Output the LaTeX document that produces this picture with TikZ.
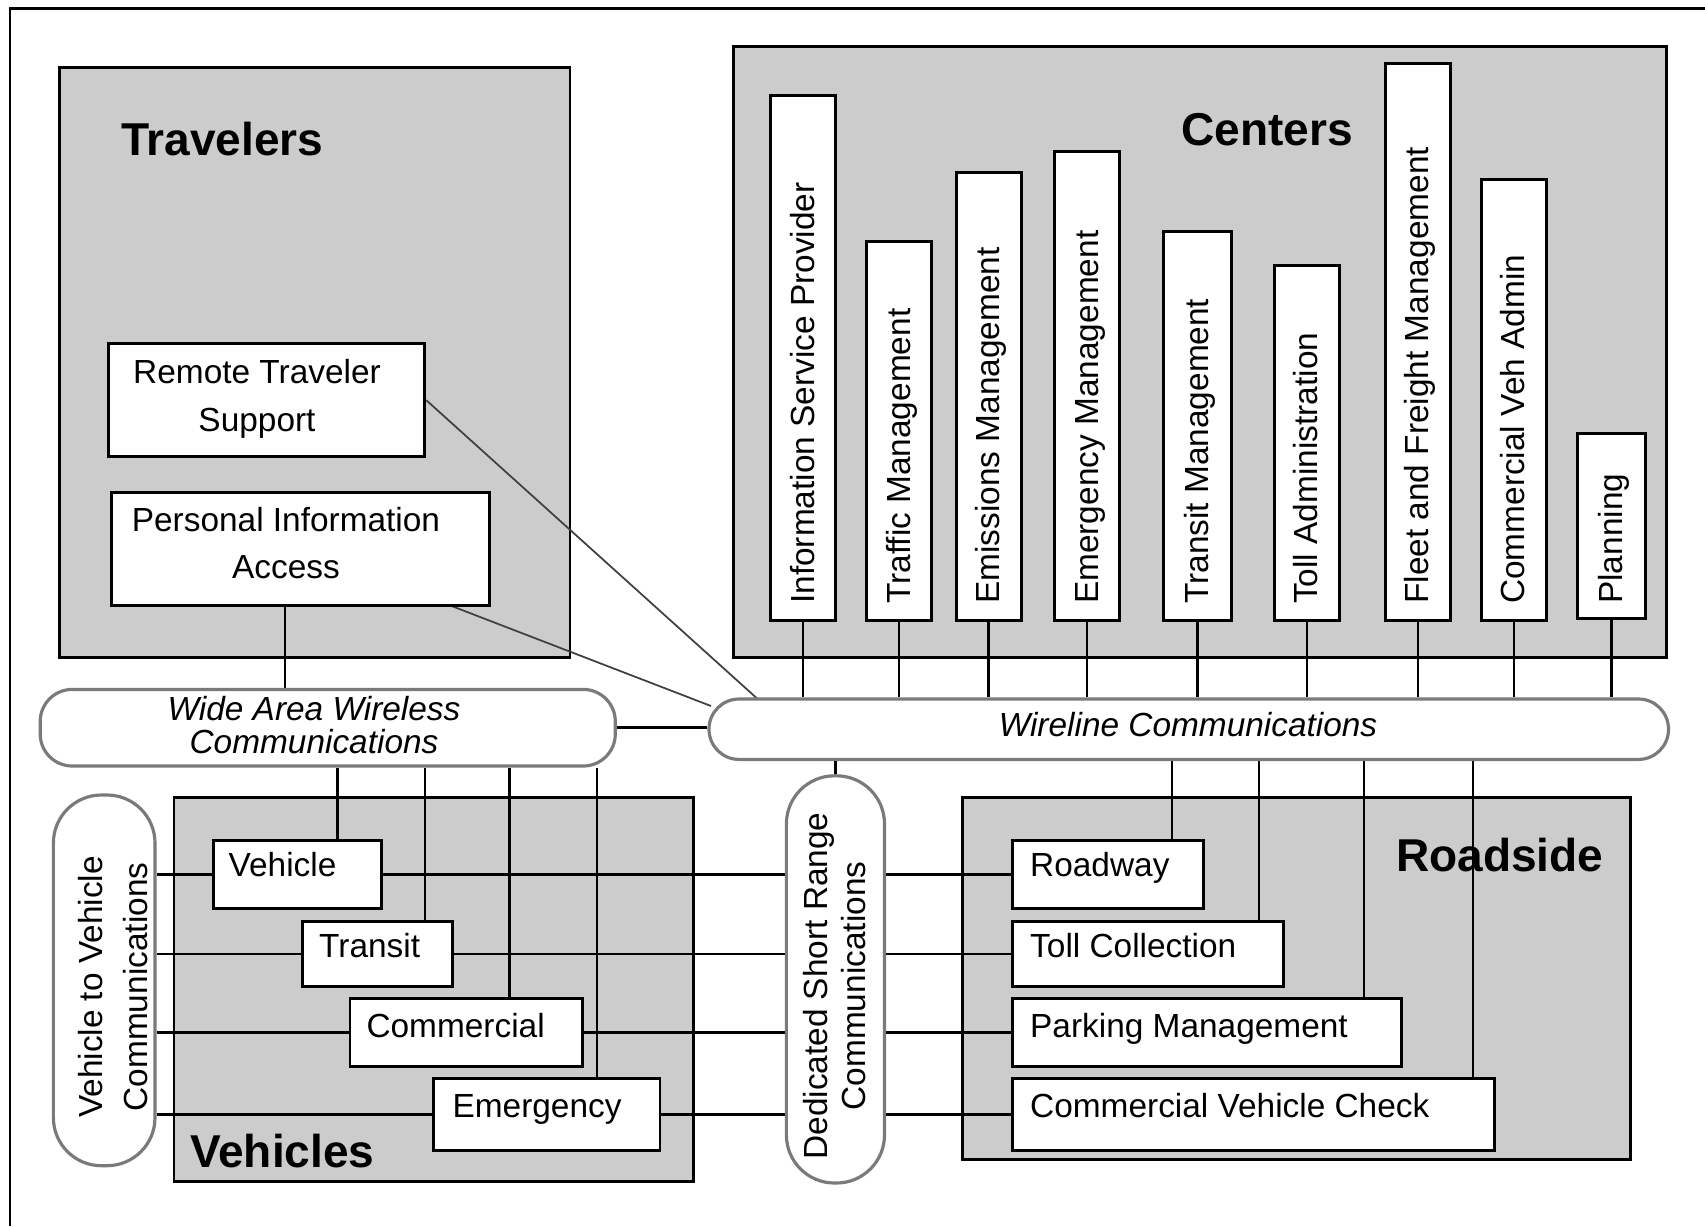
\documentclass[tikz,border=0pt]{standalone}
\usepackage{fontspec}
\setmainfont{Liberation Sans}
\usetikzlibrary{fit}
\pgfdeclarelayer{back}
\pgfdeclarelayer{mid}
\pgfsetlayers{back,mid,main}
\definecolor{grp}{HTML}{CCCCCC}
\definecolor{pillc}{HTML}{7A7A7A}
\begin{document}
\begin{tikzpicture}[x=0.01cm,y=-0.01cm,
  grpbox/.style={draw, fill=grp, line width=0.85pt, inner sep=0pt},
  wbox/.style={draw, fill=white, line width=0.85pt, inner sep=0pt},
  pill/.style={draw=pillc, fill=white, line width=0.9pt, inner sep=0pt},
  grptitle/.style={font=\fontsize{13.1}{15}\selectfont\bfseries, inner sep=0pt, anchor=base west},
  lbl/.style={font=\fontsize{9.5}{13.6}\selectfont, inner sep=0pt},
  blbl/.style={lbl, anchor=base west},
  clbl/.style={lbl, rotate=90, anchor=base west},
  conn/.style={line width=0.7pt},
  diag/.style={line width=0.5pt, black!75}]
\useasboundingbox (0,0) rectangle (1705,1226);
% outer frame
\coordinate (fbl) at (10,1226);
\coordinate (ftl) at (10,8);
\coordinate (ftr) at (1705,8);
\draw[line width=0.85pt] (fbl) -- (ftl) -- (ftr);

% group boxes
\begin{pgfonlayer}{back}
\node[grpbox, fit={(59.3,67.9)(570,657.6)}] (trav) {};
\node[grpbox, fit={(733.3,46)(1666.5,657.6)}] (cent) {};
\node[grpbox, fit={(174,797.3)(693.4,1181.4)}] (vehs) {};
\node[grpbox, fit={(962,797.3)(1630.6,1159.8)}] (road) {};
\node[grptitle] (travT) at (120.5,155.3) {Travelers};
\node[grptitle] (centT) at (1180.7,145) {Centers};
\node[grptitle] (vehsT) at (189.4,1167.5) {Vehicles};
\node[grptitle] (roadT) at (1395.5,871.5) {Roadside};
\end{pgfonlayer}

% traveler boxes
\node[wbox, fit={(108.3,343.7)(424.8,456.7)}] (rts) {};
\node[lbl, align=center] (rtsT) at (257,399) {Remote Traveler\\Support};
\node[wbox, fit={(111.7,492)(489.8,605.8)}] (pia) {};
\node[lbl, align=center] (piaT) at (286,543) {Personal Information\\Access};

% center boxes
\node[wbox, fit={(770.5,95)(835.9,620.5)}] (isp) {};
\node[wbox, fit={(866.6,241.5)(931.4,620.5)}] (tm) {};
\node[wbox, fit={(956.4,172.3)(1021,620.5)}] (ems) {};
\node[wbox, fit={(1054.4,151.8)(1119.8,620.5)}] (emg) {};
\node[wbox, fit={(1163.4,231.2)(1231.3,620.5)}] (trm) {};
\node[wbox, fit={(1274.2,265.2)(1339.6,620.5)}] (ta) {};
\node[wbox, fit={(1385.1,63.8)(1450.5,620.5)}] (ffm) {};
\node[wbox, fit={(1481.3,179.5)(1546.6,620.5)}] (cva) {};
\node[wbox, fit={(1577.4,433)(1645.3,618.3)}] (pl) {};
\node[clbl] (ispT) at ([shift={(11,-17.5)}]isp.south) {Information Service Provider};
\node[clbl] (tmT) at ([shift={(11,-17.5)}]tm.south) {Traffic Management};
\node[clbl] (emsT) at ([shift={(11,-17.5)}]ems.south) {Emissions Management};
\node[clbl] (emgT) at ([shift={(11,-17.5)}]emg.south) {Emergency Management};
\node[clbl] (trmT) at ([shift={(11,-17.5)}]trm.south) {Transit Management};
\node[clbl] (taT) at ([shift={(11,-17.5)}]ta.south) {Toll Administration};
\node[clbl] (ffmT) at ([shift={(11,-17.5)}]ffm.south) {Fleet and Freight Management};
\node[clbl] (cvaT) at ([shift={(11,-17.5)}]cva.south) {Commercial Veh Admin};
\node[clbl] (plT) at ([shift={(11,-15.3)}]pl.south) {Planning};

% vehicle boxes
\node[wbox, fit={(213.5,840)(381.7,908.8)}] (veh) {};
\node[wbox, fit={(302.5,921)(452.3,986.8)}] (tran) {};
\node[wbox, fit={(350,998)(582.6,1066.5)}] (comm) {};
\node[wbox, fit={(433.4,1078.7)(660,1150)}] (emer) {};
\node[blbl] (vehT) at ([shift={(16,38)}]veh.north west) {Vehicle};
\node[blbl] (tranT) at ([shift={(17.5,37.6)}]tran.north west) {Transit};
\node[blbl] (commT) at ([shift={(17.3,40.6)}]comm.north west) {Commercial};
\node[blbl] (emerT) at ([shift={(20,40.7)}]emer.north west) {Emergency};

% roadside boxes
\node[wbox, fit={(1012,840)(1203.7,908.8)}] (rdw) {};
\node[wbox, fit={(1012,921)(1283,986.8)}] (toll) {};
\node[wbox, fit={(1012,998)(1401.6,1066.5)}] (park) {};
\node[wbox, fit={(1012,1078.7)(1494,1150)}] (cvc) {};
\node[blbl] (rdwT) at ([shift={(19,38)}]rdw.north west) {Roadway};
\node[blbl] (tollT) at ([shift={(19,37.6)}]toll.north west) {Toll Collection};
\node[blbl] (parkT) at ([shift={(19,40.6)}]park.north west) {Parking Management};
\node[blbl] (cvcT) at ([shift={(19,40.7)}]cvc.north west) {Commercial Vehicle Check};

% communication pills
\node[pill, rounded corners=0.32cm, fit={(40.2,689.4)(615.3,766)}] (waw) {};
\node[lbl, font=\fontsize{9.5}{9.4}\selectfont\itshape, align=center] (wawT) at (314,725.5) {Wide Area Wireless\\Communications};
\node[pill, rounded corners=0.30cm, fit={(709,699)(1668.5,759.4)}] (wl) {};
\node[lbl, font=\fontsize{9.5}{12}\selectfont\itshape, anchor=base] (wlT) at (1188,736) {Wireline Communications};
\node[pill, rounded corners=0.48cm, fit={(53.4,795)(155,1165.7)}] (v2v) {};
\node[lbl, font=\fontsize{9.5}{12.8}\selectfont, align=center, rotate=90] (v2vT) at (113,987) {Vehicle to Vehicle\\Communications};
\node[pill, rounded corners=0.48cm, fit={(786.4,775.8)(884.5,1183)}] (dsrc) {};
\node[lbl, font=\fontsize{9.5}{10.8}\selectfont, align=center, rotate=90] (dsrcT) at (835,986) {Dedicated Short Range\\Communications};

% helper coordinates
\coordinate (xpia) at (285,0);
\coordinate (xv1) at (337.5,0);
\coordinate (xv2) at (424.8,0);
\coordinate (xv3) at (509.7,0);
\coordinate (xv4) at (597,0);
\coordinate (xr1) at (1172,0);
\coordinate (xr2) at (1259,0);
\coordinate (xr3) at (1364,0);
\coordinate (xr4) at (1473,0);
\coordinate (rtsEnd) at (757.7,699);
\coordinate (piaStart) at (451.6,606);
\coordinate (piaEnd) at (711,706);

\begin{pgfonlayer}{mid}
% travelers
\draw[conn] (xpia |- pia.south) -- (xpia |- waw.north);
\draw[diag] (rts.east) -- (rtsEnd);
\draw[diag] (piaStart) -- (piaEnd);
% pill to pill
\draw[conn] (waw.east) -- (waw.east -| wl.west);
\draw[conn] (dsrc.north) -- (dsrc.north |- wl.south);
% centers
\foreach \b in {isp,tm,ems,emg,trm,ta,ffm,cva,pl}
  \draw[conn] (\b.south) -- (\b.south |- wl.north);
% wide area to vehicles
\draw[conn] (xv1 |- waw.south) -- (xv1 |- veh.north);
\draw[conn] (xv2 |- waw.south) -- (xv2 |- tran.north);
\draw[conn] (xv3 |- waw.south) -- (xv3 |- comm.north);
\draw[conn] (xv4 |- waw.south) -- (xv4 |- emer.north);
% wireline to roadside
\draw[conn] (xr1 |- wl.south) -- (xr1 |- rdw.north);
\draw[conn] (xr2 |- wl.south) -- (xr2 |- toll.north);
\draw[conn] (xr3 |- wl.south) -- (xr3 |- park.north);
\draw[conn] (xr4 |- wl.south) -- (xr4 |- cvc.north);
% rows
\foreach \v/\r in {veh/rdw,tran/toll,comm/park,emer/cvc}{
  \draw[conn] (v2v.east |- \v.west) -- (\v.west);
  \draw[conn] (\v.east) -- (dsrc.west |- \v.east);
  \draw[conn] (dsrc.east |- \r.west) -- (\r.west);
}
\end{pgfonlayer}
\end{tikzpicture}
\end{document}
